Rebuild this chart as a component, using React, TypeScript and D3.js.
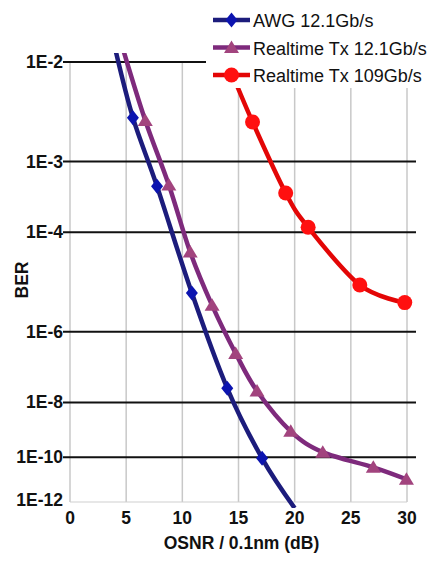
import * as d3 from "d3";

// OSNR (dB) / BER; first/last points sit outside the axis and only show as line stubs
const osnrAwg = [4, 5.6, 7.75, 10.85, 14.0, 17.1, 20];
const berAwg = [1.3e-2, 3.1e-3, 4.8e-4, 7.5e-6, 2.8e-8, 9e-11, 5e-13];

const osnrRt12 = [4.8, 6.7, 8.8, 10.7, 12.65, 14.75, 16.65, 19.65, 22.5, 27, 29.95];
const berRt12 = [1.2e-2, 2.9e-3, 5.0e-4, 4.6e-5, 4.1e-6, 2.8e-7, 2.3e-8, 1.0e-9, 1.6e-10, 3.8e-11, 1.15e-11];

const osnrRt109 = [14, 16.25, 19.2, 21.2, 25.8, 29.8];
const berRt109 = [1e-2, 2.8e-3, 3.9e-4, 1.2e-4, 1.1e-5, 4.7e-6];

const seriesNames = ["AWG 12.1Gb/s", "Realtime Tx 12.1Gb/s", "Realtime Tx 109Gb/s"];

const xTicks = [0, 5, 10, 15, 20, 25, 30];
const yTicks = [1e-2, 1e-3, 1e-4, 1e-6, 1e-8, 1e-10, 1e-12];
const yTickLabels = ["1E-2", "1E-3", "1E-4", "1E-6", "1E-8", "1E-10", "1E-12"];

const W = 430;
const H = 563;
const font = "'Liberation Sans', Arial, sans-serif";

export default function App() {
  const x = d3.scaleLinear().domain([0, 30]).range([70, 407]);
  // BER axis is linear in log(-log(BER))
  const yT = d3.scaleLinear().domain([Math.log10(2), Math.log10(12)]).range([62, 502]);
  const y = (b: number) => yT(Math.log10(-Math.log10(b)));

  const line = d3
    .line<[number, number]>()
    .x((d) => x(d[0]))
    .y((d) => y(d[1]))
    .curve(d3.curveCatmullRom.alpha(0));

  const diamond = "M0,-7.5L6,0L0,7.5L-6,0Z";
  const triangle = "M0,-7L7.5,5.5L-7.5,5.5Z";

  const series = [
    { name: seriesNames[0], xs: osnrAwg, ys: berAwg, line: "#1c1c7c", fill: "#0c14b0", shape: "diamond" },
    { name: seriesNames[1], xs: osnrRt12, ys: berRt12, line: "#7e2a7c", fill: "#a2447e", shape: "triangle" },
    { name: seriesNames[2], xs: osnrRt109, ys: berRt109, line: "#e30606", fill: "#ff1010", shape: "circle" },
  ];

  const marker = (shape: string, fill: string, cx: number, cy: number, key: any) => {
    if (shape === "circle") return <circle key={key} cx={cx} cy={cy} r={7.5} fill={fill} />;
    return (
      <path
        key={key}
        d={shape === "diamond" ? diamond : triangle}
        transform={`translate(${cx},${cy})`}
        fill={fill}
      />
    );
  };

  return (
    <svg
      width={W}
      height={H}
      style={{ position: "absolute", left: 0, top: 0, background: "#fff" }}
      fontFamily={font}
    >
      <defs>
        <clipPath id="plot">
          <rect x={0} y={53} width={W} height={455} />
        </clipPath>
      </defs>

      {/* vertical grid */}
      {xTicks.map((t) => (
        <line key={t} x1={x(t)} x2={x(t)} y1={62} y2={502} stroke="#c8c8c8" strokeWidth={1.5} />
      ))}
      <line x1={70} x2={407} y1={502} y2={502} stroke="#d0d0d0" strokeWidth={1.2} />

      {/* horizontal grid */}
      {yTicks.slice(0, -1).map((t) => (
        <line key={t} x1={63} x2={416} y1={y(t)} y2={y(t)} stroke="#111" strokeWidth={2} />
      ))}

      {/* y labels */}
      {yTicks.map((t, i) => (
        <text
          key={t}
          x={63}
          y={i === yTicks.length - 1 ? y(t) - 2 : y(t)}
          textAnchor="end"
          dominantBaseline="central"
          fontSize={17.5}
          fontWeight="bold"
          fill="#111"
        >
          {yTickLabels[i]}
        </text>
      ))}

      {/* x labels */}
      {xTicks.map((t) => (
        <text key={t} x={x(t)} y={524} textAnchor="middle" fontSize={17.5} fontWeight="bold" fill="#111">
          {t}
        </text>
      ))}
      <text x={241.5} y={549} textAnchor="middle" fontSize={17.5} fontWeight="bold" fill="#111">
        OSNR / 0.1nm (dB)
      </text>
      <text
        transform="translate(28,280) rotate(-90)"
        textAnchor="middle"
        fontSize={17.5}
        fontWeight="bold"
        fill="#111"
      >
        BER
      </text>

      {/* series */}
      <g clipPath="url(#plot)">
        {series.map((s) => (
          <path
            key={s.name}
            d={line(s.xs.map((v, i) => [v, s.ys[i]] as [number, number])) || ""}
            fill="none"
            stroke={s.line}
            strokeWidth={4.5}
            strokeLinejoin="round"
          />
        ))}
      </g>
      {series.map((s) =>
        s.xs.map((v, i) =>
          s.ys[i] <= 1e-2 && s.ys[i] >= 1e-12 ? marker(s.shape, s.fill, x(v), y(s.ys[i]), s.name + i) : null
        )
      )}

      {/* legend */}
      <rect x={206} y={0} width={W - 206} height={88} fill="#fff" />
      {series.map((s, i) => {
        const ly = 20 + i * 27.5;
        return (
          <g key={s.name}>
            <line x1={213} x2={250} y1={ly} y2={ly} stroke={s.line} strokeWidth={4.5} />
            {marker(s.shape, s.fill, 231.5, ly, "lg" + i)}
            <text x={253} y={ly + 1} dominantBaseline="central" fontSize={18} fill="#111">
              {s.name}
            </text>
          </g>
        );
      })}
    </svg>
  );
}
